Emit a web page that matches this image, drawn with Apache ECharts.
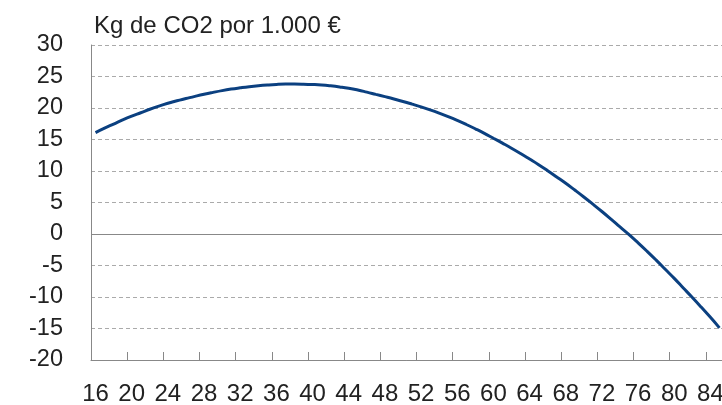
<!DOCTYPE html>
<html>
<head>
<meta charset="utf-8">
<script src="https://cdn.jsdelivr.net/npm/echarts@6/dist/echarts.min.js"></script>
<style>
  html, body { margin: 0; padding: 0; background: #fff; }
  #chart { width: 722px; height: 405px; }
</style>
</head>
<body>
<div id="chart"></div>
<script>
// edades 16..85
var ages = [];
for (var a = 16; a <= 85; a++) ages.push(String(a));

// kg de CO2 por 1.000 €
var co2 = [
  16.1, 16.8, 17.45, 18.1, 18.7, 19.25, 19.8, 20.3, 20.75, 21.15,
  21.5, 21.85, 22.18, 22.48, 22.76, 23.0, 23.2, 23.38, 23.53, 23.65,
  23.74, 23.79, 23.8, 23.78, 23.73, 23.65, 23.52, 23.35, 23.14, 22.86,
  22.52, 22.16, 21.8, 21.43, 21.04, 20.62, 20.18, 19.7, 19.18, 18.62,
  18.02, 17.38, 16.7, 15.98, 15.2, 14.42, 13.62, 12.78, 11.9, 11.0,
  10.05, 9.06, 8.05, 6.98, 5.88, 4.74, 3.57, 2.36, 1.12, -0.1,
  -1.4, -2.75, -4.15, -5.6, -7.05, -8.56, -10.08, -11.64, -13.23, -14.9
];

var font = 'Liberation Sans, Arial, sans-serif';

var chart = echarts.init(document.getElementById('chart'));
chart.setOption({
  animation: false,
  title: {
    text: 'Kg de CO2 por 1.000 €',
    left: 94,
    top: 14,
    padding: 0,
    textStyle: { fontFamily: font, fontSize: 24, fontWeight: 'normal', color: '#222', lineHeight: 25 }
  },
  grid: { left: 91, right: -2, top: 45, bottom: 45, containLabel: false, outerBoundsMode: 'none' },
  xAxis: {
    type: 'category',
    data: ages,
    boundaryGap: true,
    axisLine: { show: true, onZero: false, lineStyle: { color: '#888', width: 1 } },
    axisTick: { show: true, interval: 3, inside: true, length: 8, lineStyle: { color: '#888', width: 1 } },
    axisLabel: { interval: 3, margin: 22, fontFamily: font, fontSize: 24, color: '#222' },
    splitLine: { show: false },
    z: 5
  },
  yAxis: {
    type: 'value',
    min: -20,
    max: 30,
    interval: 5,
    axisLine: { show: true, lineStyle: { color: '#888', width: 1 } },
    axisTick: { show: false },
    axisLabel: { margin: 28, fontFamily: font, fontSize: 23.5, color: '#222' },
    splitLine: { show: true, lineStyle: { color: '#aaa', type: [4, 3], width: 1 } }
  },
  series: [{
    type: 'line',
    data: co2,
    smooth: true,
    symbol: 'none',
    lineStyle: { color: '#0b4080', width: 3 },
    markLine: {
      silent: true,
      symbol: 'none',
      label: { show: false },
      lineStyle: { color: '#888', type: 'solid', width: 1 },
      data: [{ yAxis: 0 }],
      z: 1
    }
  }]
});
</script>
</body>
</html>
